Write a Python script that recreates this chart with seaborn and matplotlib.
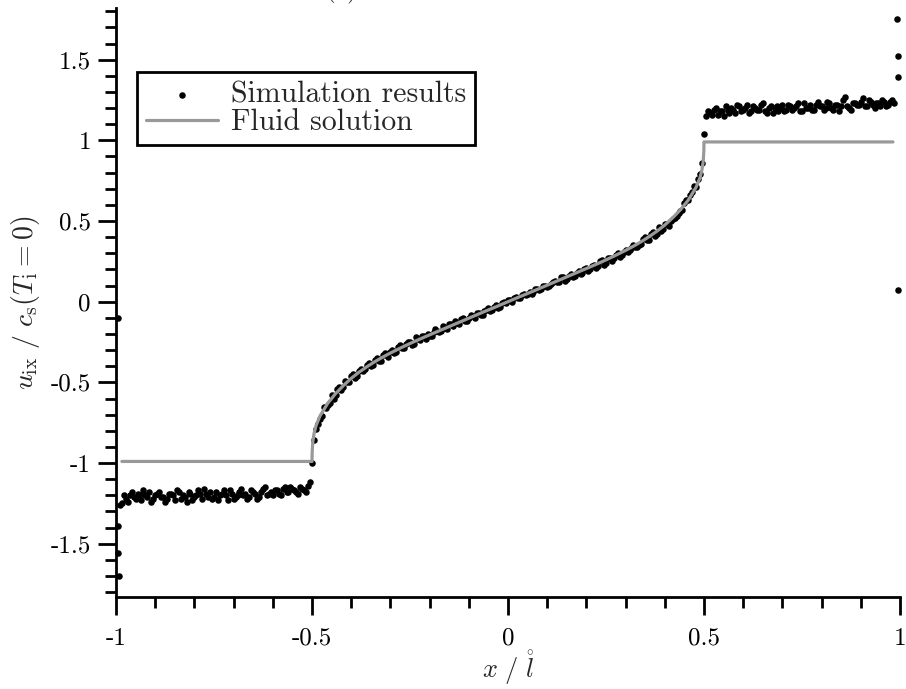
import numpy as np
import pandas as pd
import matplotlib
matplotlib.use('Agg')
import matplotlib.pyplot as plt
from matplotlib.ticker import MultipleLocator
import seaborn as sns

# Simulation results: cell positions and ion velocity (two sets of cells)
sim_x_left = [-0.985, -0.975, -0.965, -0.955, -0.945, -0.935, -0.925, -0.915, -0.905, -0.895,
              -0.885, -0.875, -0.865, -0.855, -0.845, -0.835, -0.825, -0.815, -0.805, -0.795,
              -0.785, -0.775, -0.765, -0.755, -0.745, -0.735, -0.725, -0.715, -0.705, -0.695,
              -0.685, -0.675, -0.665, -0.655, -0.645, -0.635, -0.625, -0.615, -0.605, -0.595,
              -0.585, -0.575, -0.565, -0.555, -0.545, -0.535, -0.525, -0.515, -0.505, -0.5]
sim_y_left = [-1.25, -1.22, -1.20, -1.21, -1.19, -1.23, -1.20, -1.18, -1.22, -1.19,
              -1.21, -1.24, -1.19, -1.20, -1.17, -1.22, -1.21, -1.18, -1.23, -1.20,
              -1.19, -1.16, -1.21, -1.22, -1.18, -1.20, -1.17, -1.23, -1.19, -1.21,
              -1.18, -1.20, -1.22, -1.17, -1.19, -1.21, -1.16, -1.20, -1.18, -1.17,
              -1.19, -1.16, -1.18, -1.15, -1.17, -1.19, -1.16, -1.18, -1.12, -1.00]
sim_x_left_b = [-0.99, -0.98, -0.97, -0.96, -0.95, -0.94, -0.93, -0.92, -0.91, -0.90,
                -0.89, -0.88, -0.87, -0.86, -0.85, -0.84, -0.83, -0.82, -0.81, -0.80,
                -0.79, -0.78, -0.77, -0.76, -0.75, -0.74, -0.73, -0.72, -0.71, -0.70,
                -0.69, -0.68, -0.67, -0.66, -0.65, -0.64, -0.63, -0.62, -0.61, -0.60,
                -0.59, -0.58, -0.57, -0.56, -0.55, -0.54, -0.53, -0.52, -0.51]
sim_y_left_b = [-1.26, -1.20, -1.24, -1.18, -1.22, -1.20, -1.17, -1.21, -1.24, -1.20,
                -1.18, -1.21, -1.22, -1.19, -1.23, -1.18, -1.20, -1.24, -1.19, -1.21,
                -1.17, -1.22, -1.19, -1.18, -1.21, -1.23, -1.19, -1.20, -1.17, -1.22,
                -1.20, -1.16, -1.19, -1.21, -1.18, -1.22, -1.18, -1.15, -1.19, -1.20,
                -1.17, -1.20, -1.15, -1.18, -1.16, -1.18, -1.15, -1.17, -1.14]

sim_x_mid = [-0.495, -0.485, -0.475, -0.465, -0.455, -0.445, -0.435, -0.425, -0.415, -0.405,
             -0.395, -0.385, -0.375, -0.365, -0.355, -0.345, -0.335, -0.325, -0.315, -0.305,
             -0.295, -0.285, -0.275, -0.265, -0.255, -0.245, -0.235, -0.225, -0.215, -0.205,
             -0.195, -0.185, -0.175, -0.165, -0.155, -0.145, -0.135, -0.125, -0.115, -0.105,
             -0.095, -0.085, -0.075, -0.065, -0.055, -0.045, -0.035, -0.025, -0.015, -0.005,
             0.005, 0.015, 0.025, 0.035, 0.045, 0.055, 0.065, 0.075, 0.085, 0.095,
             0.105, 0.115, 0.125, 0.135, 0.145, 0.155, 0.165, 0.175, 0.185, 0.195,
             0.205, 0.215, 0.225, 0.235, 0.245, 0.255, 0.265, 0.275, 0.285, 0.295,
             0.305, 0.315, 0.325, 0.335, 0.345, 0.355, 0.365, 0.375, 0.385, 0.395,
             0.405, 0.415, 0.425, 0.435, 0.445, 0.455, 0.465, 0.475, 0.485, 0.495]
sim_y_mid = [-0.86, -0.76, -0.71, -0.66, -0.63, -0.60, -0.54, -0.55, -0.49, -0.50,
             -0.45, -0.46, -0.42, -0.42, -0.38, -0.39, -0.35, -0.37, -0.32, -0.34,
             -0.30, -0.31, -0.27, -0.29, -0.25, -0.27, -0.22, -0.24, -0.21, -0.20,
             -0.21, -0.17, -0.19, -0.15, -0.17, -0.14, -0.12, -0.14, -0.10, -0.12,
             -0.08, -0.10, -0.07, -0.08, -0.05, -0.06, -0.03, -0.04, -0.01, -0.01,
             0.01, 0.02, 0.02, 0.04, 0.04, 0.06, 0.06, 0.08, 0.08, 0.10,
             0.10, 0.12, 0.12, 0.15, 0.13, 0.16, 0.15, 0.18, 0.17, 0.20,
             0.19, 0.22, 0.21, 0.25, 0.23, 0.27, 0.25, 0.29, 0.28, 0.31,
             0.31, 0.33, 0.34, 0.35, 0.39, 0.38, 0.42, 0.41, 0.46, 0.45,
             0.48, 0.50, 0.52, 0.55, 0.57, 0.63, 0.66, 0.72, 0.76, 0.86]
sim_x_mid_b = [-0.49, -0.48, -0.47, -0.46, -0.45, -0.44, -0.43, -0.42, -0.41, -0.40,
               -0.39, -0.38, -0.37, -0.36, -0.35, -0.34, -0.33, -0.32, -0.31, -0.30,
               -0.29, -0.28, -0.27, -0.26, -0.25, -0.24, -0.23, -0.22, -0.21, -0.20,
               -0.19, -0.18, -0.17, -0.16, -0.15, -0.14, -0.13, -0.12, -0.11, -0.10,
               -0.09, -0.08, -0.07, -0.06, -0.05, -0.04, -0.03, -0.02, -0.01, 0.00,
               0.01, 0.02, 0.03, 0.04, 0.05, 0.06, 0.07, 0.08, 0.09, 0.10,
               0.11, 0.12, 0.13, 0.14, 0.15, 0.16, 0.17, 0.18, 0.19, 0.20,
               0.21, 0.22, 0.23, 0.24, 0.25, 0.26, 0.27, 0.28, 0.29, 0.30,
               0.31, 0.32, 0.33, 0.34, 0.35, 0.36, 0.37, 0.38, 0.39, 0.40,
               0.41, 0.42, 0.43, 0.44, 0.45, 0.46, 0.47, 0.48, 0.49]
sim_y_mid_b = [-0.79, -0.73, -0.65, -0.64, -0.58, -0.58, -0.53, -0.53, -0.50, -0.46,
               -0.47, -0.43, -0.43, -0.39, -0.40, -0.36, -0.37, -0.33, -0.33, -0.31,
               -0.32, -0.28, -0.29, -0.26, -0.25, -0.26, -0.23, -0.21, -0.23, -0.21,
               -0.19, -0.18, -0.18, -0.16, -0.14, -0.15, -0.13, -0.11, -0.12, -0.10,
               -0.09, -0.07, -0.08, -0.06, -0.04, -0.05, -0.02, -0.03, 0.00, 0.01,
               0.00, 0.03, 0.02, 0.05, 0.05, 0.05, 0.08, 0.07, 0.10, 0.09,
               0.11, 0.13, 0.12, 0.15, 0.14, 0.17, 0.16, 0.19, 0.18, 0.21,
               0.20, 0.23, 0.22, 0.26, 0.24, 0.27, 0.27, 0.30, 0.29, 0.32,
               0.32, 0.35, 0.34, 0.36, 0.40, 0.38, 0.43, 0.42, 0.44, 0.48,
               0.47, 0.51, 0.53, 0.56, 0.61, 0.63, 0.68, 0.71, 0.79]

sim_x_right = [0.5, 0.505, 0.515, 0.525, 0.535, 0.545, 0.555, 0.565, 0.575, 0.585,
               0.595, 0.605, 0.615, 0.625, 0.635, 0.645, 0.655, 0.665, 0.675, 0.685,
               0.695, 0.705, 0.715, 0.725, 0.735, 0.745, 0.755, 0.765, 0.775, 0.785,
               0.795, 0.805, 0.815, 0.825, 0.835, 0.845, 0.855, 0.865, 0.875, 0.885,
               0.895, 0.905, 0.915, 0.925, 0.935, 0.945, 0.955, 0.965, 0.975, 0.985]
sim_y_right = [1.04, 1.15, 1.17, 1.19, 1.16, 1.18, 1.21, 1.17, 1.19, 1.22,
               1.18, 1.20, 1.17, 1.21, 1.19, 1.22, 1.18, 1.20, 1.17, 1.21,
               1.20, 1.18, 1.22, 1.19, 1.21, 1.18, 1.23, 1.20, 1.19, 1.22,
               1.21, 1.19, 1.24, 1.20, 1.22, 1.18, 1.25, 1.21, 1.19, 1.23,
               1.22, 1.26, 1.21, 1.24, 1.20, 1.23, 1.25, 1.21, 1.24, 1.23]
sim_x_right_b = [0.51, 0.52, 0.53, 0.54, 0.55, 0.56, 0.57, 0.58, 0.59, 0.60,
                 0.61, 0.62, 0.63, 0.64, 0.65, 0.66, 0.67, 0.68, 0.69, 0.70,
                 0.71, 0.72, 0.73, 0.74, 0.75, 0.76, 0.77, 0.78, 0.79, 0.80,
                 0.81, 0.82, 0.83, 0.84, 0.85, 0.86, 0.87, 0.88, 0.89, 0.90,
                 0.91, 0.92, 0.93, 0.94, 0.95, 0.96, 0.97, 0.98]
sim_y_right_b = [1.18, 1.16, 1.20, 1.18, 1.15, 1.19, 1.20, 1.17, 1.21, 1.19,
                 1.22, 1.18, 1.20, 1.19, 1.23, 1.17, 1.21, 1.20, 1.18, 1.22,
                 1.19, 1.21, 1.20, 1.23, 1.18, 1.20, 1.22, 1.19, 1.24, 1.21,
                 1.20, 1.23, 1.19, 1.22, 1.21, 1.27, 1.20, 1.23, 1.22, 1.24,
                 1.21, 1.25, 1.22, 1.23, 1.21, 1.24, 1.22, 1.25]

# boundary cells
edge_x = [-0.996, -0.995, -0.994, -0.993, 0.993, 0.994, 0.995, 0.996]
edge_y = [-0.10, -1.39, -1.56, -1.70, 1.75, 1.52, 1.39, 0.07]

# Fluid solution
fluid_x = [-0.985, -0.5, -0.4995, -0.498, -0.495, -0.49, -0.48, -0.47, -0.46, -0.45,
           -0.44, -0.42, -0.40, -0.38, -0.36, -0.34, -0.32, -0.30, -0.27, -0.24,
           -0.21, -0.18, -0.15, -0.12, -0.09, -0.06, -0.03, 0.0,
           0.03, 0.06, 0.09, 0.12, 0.15, 0.18, 0.21, 0.24, 0.27, 0.30,
           0.32, 0.34, 0.36, 0.38, 0.40, 0.42, 0.44, 0.45, 0.46, 0.47,
           0.48, 0.49, 0.495, 0.498, 0.4995, 0.5, 0.982]
fluid_y = [-0.99, -0.99, -0.93, -0.87, -0.82, -0.77, -0.71, -0.67, -0.63, -0.60,
           -0.57, -0.52, -0.475, -0.437, -0.403, -0.372, -0.344, -0.318, -0.282, -0.248,
           -0.216, -0.185, -0.154, -0.123, -0.092, -0.061, -0.031, 0.0,
           0.031, 0.061, 0.092, 0.123, 0.154, 0.185, 0.216, 0.248, 0.282, 0.318,
           0.344, 0.372, 0.403, 0.437, 0.475, 0.52, 0.57, 0.60, 0.63, 0.67,
           0.71, 0.77, 0.82, 0.87, 0.93, 0.99, 0.99]

x_ticks = [-1, -0.5, 0, 0.5, 1]
x_tick_labels = ['-1', '-0.5', '0', '0.5', '1']
y_ticks = [-1.5, -1, -0.5, 0, 0.5, 1, 1.5]
y_tick_labels = ['-1.5', '-1', '-0.5', '0', '0.5', '1', '1.5']

sim = pd.DataFrame({
    'x': sim_x_left + sim_x_left_b + sim_x_mid + sim_x_mid_b
         + sim_x_right + sim_x_right_b + edge_x,
    'u': sim_y_left + sim_y_left_b + sim_y_mid + sim_y_mid_b
         + sim_y_right + sim_y_right_b + edge_y,
})
fluid = pd.DataFrame({'x': fluid_x, 'u': fluid_y})

sns.set_style('ticks')
plt.rcParams['font.family'] = 'serif'
plt.rcParams['font.serif'] = ['cmr10', 'DejaVu Serif']
plt.rcParams['mathtext.fontset'] = 'cm'
plt.rcParams['axes.unicode_minus'] = False
plt.rcParams['axes.formatter.use_mathtext'] = True

fig = plt.figure(figsize=(9.06, 6.89), dpi=100)
ax = fig.add_axes([116 / 906, 92 / 689, 784 / 906, 589 / 689])

sns.scatterplot(data=sim, x='x', y='u', ax=ax, color='black', s=22, linewidth=0,
                label='Simulation results', zorder=3, clip_on=False)
# the fluid curve is drawn over the particle data
sns.lineplot(data=fluid, x='x', y='u', ax=ax, color='#999999', linewidth=2.3,
             sort=False, estimator=None, label='Fluid solution', zorder=4)

ax.set_xlim(-1, 1)
ax.set_ylim(-1.83, 1.82)
ax.set_xticks(x_ticks)
ax.set_xticklabels(x_tick_labels)
ax.set_yticks(y_ticks)
ax.set_yticklabels(y_tick_labels)
ax.xaxis.set_minor_locator(MultipleLocator(0.1))
ax.yaxis.set_minor_locator(MultipleLocator(0.1))
ax.tick_params(which='major', direction='out', length=13, width=2, labelsize=18,
               color='black', labelcolor='black')
ax.tick_params(which='minor', direction='out', length=8, width=2, color='black')
ax.tick_params(axis='x', which='major', pad=9)
ax.tick_params(axis='y', which='major', pad=5)

for side in ['left', 'bottom']:
    ax.spines[side].set_linewidth(2)
    ax.spines[side].set_color('black')
sns.despine(ax=ax, top=True, right=True)

ax.set_xlabel(r'$x\ /\ \mathring{l}$', fontsize=19, labelpad=-1)
ax.set_ylabel(r'$u_{\rm ix}\ /\ c_{\rm s}(T_{\rm i}=0)$', fontsize=20, labelpad=6)

handles, labels = ax.get_legend_handles_labels()
order = [labels.index('Simulation results'), labels.index('Fluid solution')]
leg = ax.legend([handles[i] for i in order], [labels[i] for i in order],
                loc='upper left', bbox_to_anchor=(0.027, 0.891), borderaxespad=0,
                fontsize=21.5, frameon=True, fancybox=False, framealpha=1,
                edgecolor='black', handlelength=2.4, handletextpad=0.45,
                borderpad=0.3, labelspacing=0.0, markerscale=1.0)
leg.get_frame().set_linewidth(2)

fig.text(342 / 906, 1.004, '(a)', ha='center', va='baseline', fontsize=18)

fig.savefig('out.png', dpi=100, facecolor='white')
